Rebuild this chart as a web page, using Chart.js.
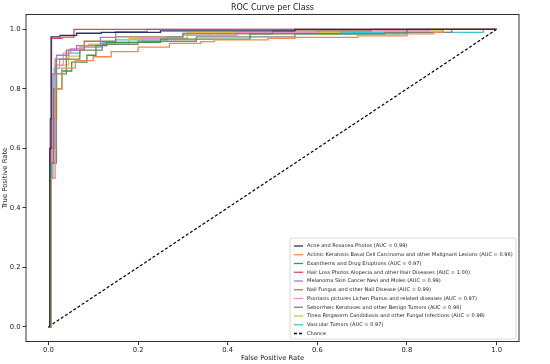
<!DOCTYPE html>
<html>
<head>
<meta charset="utf-8">
<script src="https://cdn.jsdelivr.net/npm/chart.js@4"></script>
<style>
  html, body { margin: 0; padding: 0; background: #fff; }
  #wrap { width: 550px; height: 364px; }
</style>
</head>
<body>
<div id="wrap"><canvas id="roc" width="550" height="364"></canvas></div>
<script>
// class names and AUC values from the legend
var classNames = [
  "Acne and Rosacea Photos",
  "Actinic Keratosis Basal Cell Carcinoma and other Malignant Lesions",
  "Exanthems and Drug Eruptions",
  "Hair Loss Photos Alopecia and other Hair Diseases",
  "Melanoma Skin Cancer Nevi and Moles",
  "Nail Fungus and other Nail Disease",
  "Psoriasis pictures Lichen Planus and related diseases",
  "Seborrheic Keratoses and other Benign Tumors",
  "Tinea Ringworm Candidiasis and other Fungal Infections",
  "Vascular Tumors"
];
var aucValues = [0.99, 0.96, 0.97, 1.00, 0.99, 0.99, 0.97, 0.96, 0.98, 0.97];

// ROC corner points [fpr, tpr]
var acnePts = [[0,0],[0.003,0.6],[0.006,0.975],[0.026,0.98],[0.063,0.987],[0.118,0.99],[0.25,0.995],[0.55,1],[1,1]];
var actinicPts = [[0,0],[0.006,0.5],[0.015,0.8],[0.03,0.87],[0.06,0.895],[0.1,0.908],[0.14,0.925],[0.2,0.94],[0.27,0.953],[0.34,0.959],[0.37,0.965],[0.49,0.97],[0.55,0.973],[0.69,0.978],[0.8,0.985],[0.86,0.99],[0.88,1],[1,1]];
var exanthemsPts = [[0,0],[0.005,0.55],[0.012,0.8],[0.03,0.86],[0.052,0.89],[0.086,0.913],[0.106,0.945],[0.13,0.956],[0.25,0.967],[0.45,0.985],[0.8,1],[1,1]];
var hairLossPts = [[0,0],[0.004,0.7],[0.007,0.97],[0.03,0.974],[0.057,1],[1,1]];
var melanomaPts = [[0,0],[0.005,0.5],[0.01,0.85],[0.015,0.9],[0.018,0.913],[0.045,0.93],[0.063,0.945],[0.116,0.973],[0.15,0.992],[0.22,1],[1,1]];
var nailPts = [[0,0],[0.005,0.7],[0.018,0.9],[0.04,0.93],[0.08,0.96],[0.15,0.975],[0.3,0.985],[0.5,0.995],[0.72,1],[1,1]];
var psoriasisPts = [[0,0],[0.006,0.6],[0.016,0.88],[0.033,0.92],[0.05,0.935],[0.08,0.945],[0.13,0.956],[0.205,0.97],[0.3,0.98],[0.42,0.99],[0.6,0.995],[0.85,1],[1,1]];
var sebPts = [[0,0],[0.006,0.55],[0.018,0.85],[0.04,0.9],[0.07,0.93],[0.12,0.95],[0.2,0.96],[0.33,0.975],[0.55,0.985],[0.75,0.99],[0.9,1],[1,1]];
var tineaPts = [[0,0],[0.006,0.6],[0.016,0.88],[0.045,0.91],[0.07,0.94],[0.09,0.95],[0.18,0.97],[0.31,0.99],[0.65,0.995],[0.88,1],[1,1]];
var vascularPts = [[0,0],[0.004,0.6],[0.013,0.87],[0.025,0.9],[0.045,0.92],[0.07,0.94],[0.12,0.955],[0.15,0.965],[0.265,0.975],[0.3,0.987],[0.65,0.99],[0.97,1],[1,1]];
var chancePts = [[0,0],[1,1]];

var tickValues = [0, 0.2, 0.4, 0.6, 0.8, 1.0];

var allPts = [acnePts, actinicPts, exanthemsPts, hairLossPts, melanomaPts, nailPts, psoriasisPts, sebPts, tineaPts, vascularPts];
var colors = ["#26305f", "#f4874f", "#3a9a45", "#e2455a", "#a27dca", "#a47a58", "#e88fc8", "#808080", "#d9c23a", "#3ec4d6"];

var FONT = "'DejaVu Sans', sans-serif";

var datasets = allPts.map(function (pts, i) {
  return {
    label: classNames[i] + " (AUC = " + aucValues[i].toFixed(2) + ")",
    data: pts.map(function (p) { return { x: p[0], y: p[1] }; }),
    borderColor: colors[i],
    borderWidth: 1.3,
    pointRadius: 0,
    stepped: "before",
    fill: false
  };
});
datasets.push({
  label: "Chance",
  data: chancePts.map(function (p) { return { x: p[0], y: p[1] }; }),
  borderColor: "#000",
  borderWidth: 1.2,
  borderDash: [3, 2],
  pointRadius: 0,
  fill: false
});

// frame, titles and legend drawn by hand (matplotlib style)
var decor = {
  id: "decor",
  afterDraw: function (chart) {
    var ctx = chart.ctx, a = chart.chartArea;
    ctx.save();
    ctx.strokeStyle = "#000";
    ctx.lineWidth = 0.8;
    ctx.strokeRect(a.left, a.top, a.right - a.left, a.bottom - a.top);

    ctx.fillStyle = "#222";
    ctx.textAlign = "center";
    ctx.textBaseline = "middle";
    ctx.font = "8px " + FONT;
    ctx.fillText("ROC Curve per Class", (a.left + a.right) / 2, 8);
    ctx.font = "6.8px " + FONT;
    ctx.fillText("False Positive Rate", (a.left + a.right) / 2, 358);
    ctx.save();
    ctx.translate(5.5, (a.top + a.bottom) / 2);
    ctx.rotate(-Math.PI / 2);
    ctx.fillText("True Positive Rate", 0, 0);
    ctx.restore();

    // legend box
    var bx = 290, by = 238, bw = 226, bh = 101;
    ctx.fillStyle = "rgba(255,255,255,0.85)";
    ctx.strokeStyle = "#d0d0d0";
    ctx.lineWidth = 0.8;
    ctx.beginPath();
    ctx.roundRect(bx, by, bw, bh, 2);
    ctx.fill();
    ctx.stroke();

    var fs = 5.6;
    ctx.font = fs + "px " + FONT;
    var maxW = 0;
    chart.data.datasets.forEach(function (d) { maxW = Math.max(maxW, ctx.measureText(d.label).width); });
    var avail = bx + bw - 3 - (bx + 17);
    if (maxW > avail) { fs = fs * avail / maxW; ctx.font = fs + "px " + FONT; }
    ctx.textAlign = "left";
    chart.data.datasets.forEach(function (d, i) {
      var y = by + 8 + i * 8.75;
      ctx.strokeStyle = d.borderColor;
      ctx.lineWidth = 1.3;
      ctx.setLineDash(d.borderDash || []);
      ctx.beginPath();
      ctx.moveTo(bx + 4, y);
      ctx.lineTo(bx + 13, y);
      ctx.stroke();
      ctx.setLineDash([]);
      ctx.fillStyle = "#222";
      ctx.fillText(d.label, bx + 17, y);
    });
    ctx.restore();
  }
};

function setTicks(scale) {
  scale.ticks = tickValues.map(function (v) { return { value: v }; });
}

new Chart("roc", {
  type: "line",
  data: { datasets: datasets },
  plugins: [decor],
  options: {
    responsive: false,
    animation: false,
    layout: { padding: { left: 0, right: 31, top: 14.5, bottom: 0 } },
    plugins: { legend: { display: false }, tooltip: { enabled: false } },
    scales: {
      x: {
        type: "linear",
        min: -0.05,
        max: 1.05,
        afterBuildTicks: setTicks,
        afterFit: function (s) { s.height = 22.4; },
        border: { display: false },
        grid: { drawOnChartArea: false, drawTicks: true, tickLength: 3.5, color: "#000", lineWidth: 0.8 },
        ticks: {
          padding: 1.5,
          color: "#222",
          font: { family: FONT, size: 6.8 },
          maxRotation: 0,
          callback: function (v) { return v.toFixed(1); }
        }
      },
      y: {
        type: "linear",
        min: -0.05,
        max: 1.05,
        afterBuildTicks: setTicks,
        afterFit: function (s) { s.width = 26; },
        border: { display: false },
        grid: { drawOnChartArea: false, drawTicks: true, tickLength: 3.5, color: "#000", lineWidth: 0.8 },
        ticks: {
          padding: 2,
          color: "#222",
          font: { family: FONT, size: 6.8 },
          callback: function (v) { return v.toFixed(1); }
        }
      }
    }
  }
});
</script>
</body>
</html>
